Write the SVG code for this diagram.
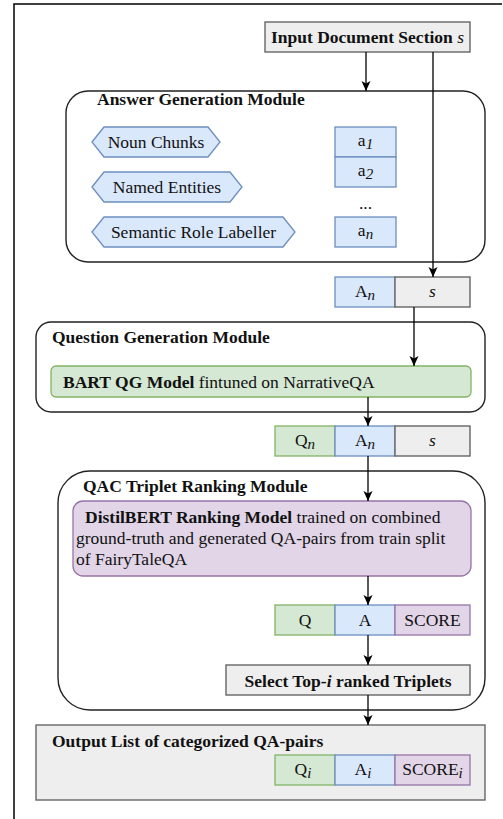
<svg xmlns="http://www.w3.org/2000/svg" width="503" height="819" viewBox="0 0 503 819" font-family="'Liberation Serif', 'DejaVu Serif', 'Times New Roman', serif">
<defs>
<marker id="arr" markerUnits="userSpaceOnUse" markerWidth="11" markerHeight="10" refX="10" refY="4.5" orient="auto">
<path d="M0,0 L10,4.5 L0,9 L2.5,4.5 Z" fill="#000"/>
</marker>
<style>
text{font-family:'Liberation Serif','DejaVu Serif','Times New Roman',serif;font-size:17.5px;fill:#111}
.b{font-weight:bold}
.i{font-style:italic}
.mid{text-anchor:middle}
.mod{fill:#fff;stroke:#222;stroke-width:1.4}
.blue{fill:#dae8fc;stroke:#6c8ebf;stroke-width:1.3}
.green{fill:#d5e8d4;stroke:#82b366;stroke-width:1.3}
.purple{fill:#e1d5e7;stroke:#9673a6;stroke-width:1.3}
.gray{fill:#eeeeee;stroke:#666;stroke-width:1.4}
.con{fill:none;stroke:#000;stroke-width:1.3;marker-end:url(#arr)}
.sub{font-style:italic;font-size:15px}
</style>
</defs>
<path d="M14,819 V4 H502" fill="none" stroke="#000" stroke-width="1.5"/>

<g id="input">
<rect class="gray" x="265" y="22" width="205" height="30"/>
<text class="mid b" x="367.5" y="43">Input Document Section <tspan class="i" font-weight="normal">s</tspan></text>
</g>

<g id="answer-module">
<rect class="mod" x="66" y="91" width="419" height="171" rx="22"/>
<text class="b" x="97" y="105">Answer Generation Module</text>
</g>
<g id="noun-chunks">
<polygon class="blue" points="92,142 104,127 208,127 220,142 208,157 104,157"/>
<text class="mid" x="156" y="148">Noun Chunks</text>
</g>
<g id="named-entities">
<polygon class="blue" points="92,187 104,172 230,172 242,187 230,202 104,202"/>
<text class="mid" x="167" y="193">Named Entities</text>
</g>
<g id="srl">
<polygon class="blue" points="92,232 104,217 283,217 295,232 283,247 104,247"/>
<text class="mid" x="193.5" y="238">Semantic Role Labeller</text>
</g>
<g id="a1">
<rect class="blue" x="335" y="127" width="61" height="30"/>
<text class="mid" x="365.5" y="146">a<tspan class="sub" dy="3">1</tspan></text>
</g>
<g id="a2">
<rect class="blue" x="335" y="157" width="61" height="30"/>
<text class="mid" x="365.5" y="176">a<tspan class="sub" dy="3">2</tspan></text>
</g>
<g id="dots">
<text class="mid" x="365.5" y="209" font-size="12px">...</text>
</g>
<g id="an">
<rect class="blue" x="335" y="217" width="61" height="30"/>
<text class="mid" x="365.5" y="236">a<tspan class="sub" dy="3">n</tspan></text>
</g>

<g id="row1">
<rect class="blue" x="335" y="277" width="60" height="30"/>
<text class="mid" x="365" y="297">A<tspan class="sub" dy="3">n</tspan></text>
<rect class="gray" x="395" y="277" width="75" height="30"/>
<text class="mid i" x="432.5" y="297">s</text>
</g>

<g id="qg-module">
<rect class="mod" x="36" y="322" width="449" height="90" rx="15"/>
<text class="b" x="52" y="343">Question Generation Module</text>
</g>
<g id="bart">
<rect class="green" x="51" y="366" width="420" height="31" rx="5"/>
<text x="63" y="388"><tspan class="b">BART QG Model</tspan> fintuned on NarrativeQA</text>
</g>

<g id="row2">
<rect class="green" x="275" y="426" width="60" height="30"/>
<text class="mid" x="305" y="446">Q<tspan class="sub" dy="3">n</tspan></text>
<rect class="blue" x="335" y="426" width="60" height="30"/>
<text class="mid" x="365" y="446">A<tspan class="sub" dy="3">n</tspan></text>
<rect class="gray" x="395" y="426" width="75" height="30"/>
<text class="mid i" x="432.5" y="446">s</text>
</g>

<g id="qac-module">
<rect class="mod" x="58" y="471" width="427" height="239" rx="32"/>
<text class="b" x="83" y="492">QAC Triplet Ranking Module</text>
</g>
<g id="distilbert">
<rect class="purple" x="73" y="501" width="398" height="75" rx="10"/>
<text x="85" y="523"><tspan class="b">DistilBERT Ranking Model</tspan> trained on combined</text>
<text x="76" y="544">ground-truth and generated QA-pairs from train split</text>
<text x="76" y="565">of FairyTaleQA</text>
</g>
<g id="row3">
<rect class="green" x="275" y="605" width="60" height="30"/>
<text class="mid" x="305" y="626">Q</text>
<rect class="blue" x="335" y="605" width="60" height="30"/>
<text class="mid" x="365" y="626">A</text>
<rect class="purple" x="395" y="605" width="75" height="30"/>
<text class="mid" x="432.5" y="626">SCORE</text>
</g>
<g id="select">
<rect class="gray" x="226" y="665" width="244" height="30"/>
<text class="mid b" x="348" y="687">Select Top-<tspan class="i">i</tspan> ranked Triplets</text>
</g>

<g id="output">
<rect class="gray" x="36" y="725" width="449" height="75"/>
<text class="b" x="52" y="747">Output List of categorized QA-pairs</text>
<rect class="green" x="275" y="755" width="60" height="30"/>
<text class="mid" x="303" y="775">Q<tspan class="sub" dy="3">i</tspan></text>
<rect class="blue" x="335" y="755" width="60" height="30"/>
<text class="mid" x="363" y="775">A<tspan class="sub" dy="3">i</tspan></text>
<rect class="purple" x="395" y="755" width="75" height="30"/>
<text class="mid" x="432.5" y="775">SCORE<tspan class="sub" dy="3">i</tspan></text>
</g>

<g id="connectors">
<path class="con" d="M366,52 V91"/>
<path class="con" d="M433,52 V277"/>
<path class="con" d="M414,307 V366"/>
<path class="con" d="M368,397 V426"/>
<path class="con" d="M368,456 V501"/>
<path class="con" d="M368,576 V605"/>
<path class="con" d="M368,635 V665"/>
<path class="con" d="M368,695 V725"/>
</g>
</svg>
